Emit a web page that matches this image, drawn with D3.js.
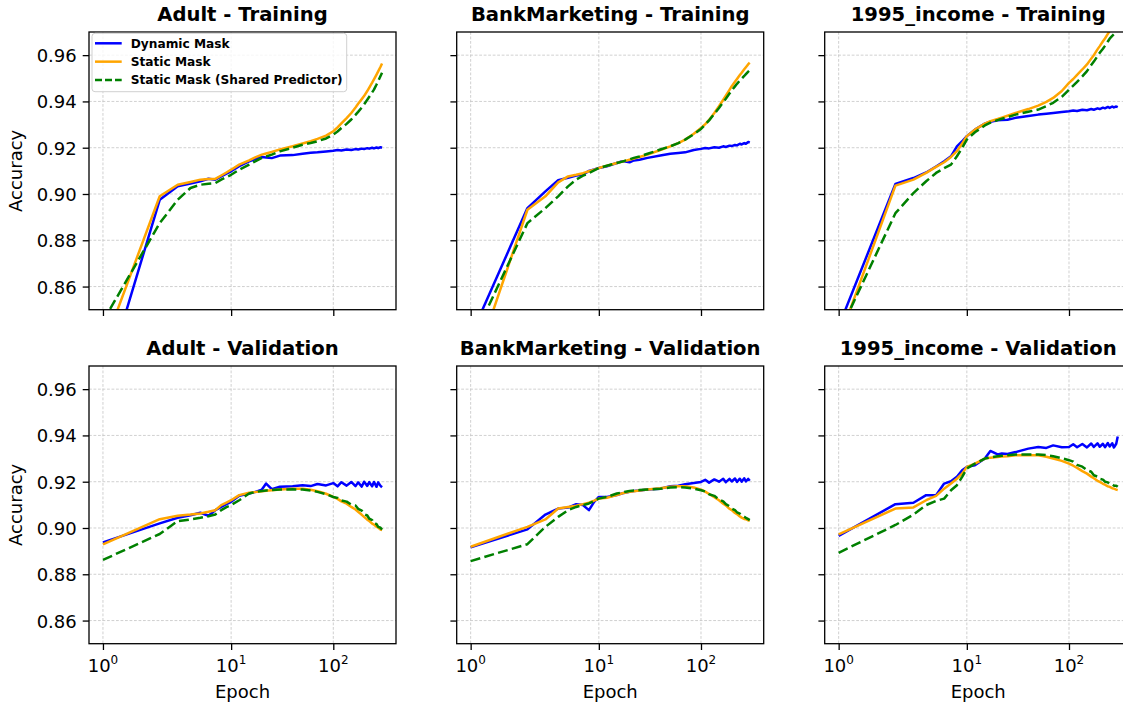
<!DOCTYPE html>
<html>
<head>
<meta charset="utf-8">
<script src="https://cdn.jsdelivr.net/npm/d3@7"></script>
<style>
  body { margin: 0; background: #fff; }
  svg { display: block; font-family: "DejaVu Sans", sans-serif; }
</style>
</head>
<body>
<div id="chart"></div>
<script>
// epochs sampled from the curves (x axis is matplotlib symlog, linthresh = 2)
const epochs = [1, 2, 3, 4, 5, 6, 7, 8, 9, 10, 12, 15, 17, 20, 22, 25, 30, 40, 50, 60, 70, 85,
    100, 110, 120, 135, 150, 165, 175, 190, 200, 215, 225, 240, 250, 265, 275, 290, 300];

const datasets = ["Adult", "BankMarketing", "1995_income"];
const phases = ["Training", "Validation"];
const seriesNames = ["Dynamic Mask", "Static Mask", "Static Mask (Shared Predictor)"];
const yTicks = [0.86, 0.88, 0.90, 0.92, 0.94, 0.96];
const xTicks = [1, 10, 100];

// Training
const adultTrainDyn = [0.816, 0.8975, 0.9033, 0.9045, 0.9055, 0.9066, 0.9062, 0.9076, 0.9088, 0.9098, 0.912, 0.9141, 0.915, 0.916, 0.9158, 0.9155, 0.9166, 0.9168, 0.9174, 0.9178, 0.918, 0.9184,
    0.9187, 0.919, 0.9188, 0.9192, 0.919, 0.9194, 0.9192, 0.9196, 0.9194, 0.9198, 0.9196, 0.92, 0.9197, 0.9201, 0.9198, 0.9202, 0.92];
const adultTrainStatic = [0.833, 0.899, 0.904, 0.9052, 0.9062, 0.9065, 0.9065, 0.908, 0.9093, 0.9105, 0.9127, 0.9145, 0.9157, 0.917, 0.9175, 0.9182, 0.9192, 0.9206, 0.9218, 0.9228, 0.9238, 0.9252,
    0.9271, 0.9288, 0.9305, 0.9328, 0.935, 0.9374, 0.939, 0.941, 0.9423, 0.9445, 0.946, 0.9481, 0.9495, 0.9516, 0.953, 0.955, 0.9564];
const adultTrainShared = [0.845, 0.8874, 0.8975, 0.9026, 0.904, 0.9044, 0.9047, 0.9062, 0.9073, 0.9083, 0.9105, 0.9127, 0.914, 0.9156, 0.9162, 0.917, 0.9184, 0.920, 0.9213, 0.922, 0.9228, 0.924,
    0.9257, 0.927, 0.9285, 0.9303, 0.9322, 0.9342, 0.9355, 0.9374, 0.9387, 0.9407, 0.942, 0.9439, 0.9451, 0.9473, 0.9488, 0.951, 0.9524];

const bankTrainDyn = [0.8385, 0.8939, 0.9011, 0.906, 0.907, 0.908, 0.9083, 0.910, 0.9106, 0.9112, 0.912, 0.9134, 0.9142, 0.9137, 0.9145, 0.9148, 0.9156, 0.9166, 0.9174, 0.9177, 0.918, 0.919,
    0.9195, 0.9199, 0.9197, 0.9202, 0.92, 0.9206, 0.9203, 0.9209, 0.9207, 0.9212, 0.921, 0.9217, 0.9214, 0.922, 0.9217, 0.9225, 0.9222];
const bankTrainStatic = [0.821, 0.8932, 0.899, 0.905, 0.9076, 0.9083, 0.909, 0.9098, 0.9105, 0.9112, 0.9122, 0.9134, 0.914, 0.9148, 0.9153, 0.916, 0.917, 0.919, 0.9206, 0.922, 0.9235, 0.926,
    0.9285, 0.9302, 0.932, 0.935, 0.9379, 0.9407, 0.9425, 0.945, 0.9466, 0.9485, 0.9497, 0.9514, 0.9524, 0.9539, 0.9548, 0.9561, 0.9567];
const bankTrainShared = [0.835, 0.8874, 0.8939, 0.899, 0.9033, 0.9062, 0.9079, 0.909, 0.9102, 0.9112, 0.9122, 0.9134, 0.914, 0.915, 0.9156, 0.9162, 0.9174, 0.9192, 0.9206, 0.922, 0.9235, 0.9258,
    0.9281, 0.93, 0.9318, 0.9346, 0.9372, 0.9397, 0.9412, 0.9434, 0.9448, 0.9465, 0.9476, 0.949, 0.9498, 0.951, 0.9518, 0.9529, 0.9535];

const incomeTrainDyn = [0.8427, 0.9043, 0.9069, 0.9093, 0.9119, 0.9141, 0.9163, 0.9206, 0.9228, 0.925, 0.9278, 0.9304, 0.9312, 0.9319, 0.932, 0.9321, 0.9329, 0.9337, 0.9343, 0.9347, 0.935, 0.9354,
    0.9358, 0.9361, 0.9359, 0.9364, 0.9362, 0.9367, 0.9364, 0.937, 0.9367, 0.9373, 0.937, 0.9376, 0.9372, 0.9378, 0.9374, 0.9378, 0.9375];
const incomeTrainStatic = [0.8365, 0.9036, 0.9062, 0.9091, 0.9117, 0.9137, 0.916, 0.9185, 0.9218, 0.925, 0.9278, 0.9304, 0.9315, 0.9324, 0.933, 0.9338, 0.935, 0.9367, 0.9382, 0.9398, 0.9415, 0.9445,
    0.948, 0.9497, 0.9515, 0.9538, 0.956, 0.9585, 0.96, 0.9625, 0.9639, 0.966, 0.9672, 0.9692, 0.9704, 0.972, 0.973, 0.9746, 0.9754];
const incomeTrainShared = [0.8395, 0.8917, 0.9004, 0.9055, 0.9091, 0.9112, 0.9127, 0.9163, 0.9199, 0.9235, 0.9267, 0.9296, 0.9308, 0.9319, 0.9325, 0.9332, 0.9343, 0.9355, 0.9365, 0.938, 0.9394, 0.942,
    0.9451, 0.9468, 0.9485, 0.9508, 0.9531, 0.9557, 0.9572, 0.9596, 0.961, 0.9628, 0.964, 0.9659, 0.9671, 0.9683, 0.969, 0.9701, 0.9708];

// Validation
const adultValDyn = [0.8938, 0.902, 0.9044, 0.9055, 0.9066, 0.9053, 0.9077, 0.9091, 0.9103, 0.9113, 0.9139, 0.9149, 0.9155, 0.9166, 0.9192, 0.9168, 0.9178, 0.918, 0.9185, 0.9181, 0.919, 0.9184,
    0.9194, 0.918, 0.9198, 0.9183, 0.9199, 0.9181, 0.9197, 0.9179, 0.92, 0.9182, 0.9198, 0.918, 0.9199, 0.9178, 0.9197, 0.9182, 0.9176];
const adultValStatic = [0.8929, 0.9038, 0.9053, 0.9058, 0.9063, 0.907, 0.9077, 0.9099, 0.911, 0.912, 0.9142, 0.9152, 0.9155, 0.9159, 0.9161, 0.9163, 0.9166, 0.917, 0.917, 0.9165, 0.9159, 0.9148,
    0.9134, 0.9126, 0.9115, 0.9105, 0.9091, 0.908, 0.907, 0.9057, 0.9048, 0.9036, 0.903, 0.9019, 0.9015, 0.9005, 0.9002, 0.8993, 0.8991];
const adultValShared = [0.8862, 0.8974, 0.903, 0.9037, 0.9044, 0.9051, 0.9058, 0.9077, 0.909, 0.9099, 0.912, 0.9149, 0.9155, 0.916, 0.9162, 0.9164, 0.9166, 0.9167, 0.9166, 0.9162, 0.9156, 0.9146,
    0.9134, 0.913, 0.9119, 0.9114, 0.9101, 0.9097, 0.9083, 0.9075, 0.906, 0.9054, 0.904, 0.9034, 0.9019, 0.9017, 0.9005, 0.9001, 0.8993];

const bankValDyn = [0.8916, 0.8994, 0.9058, 0.9084, 0.9088, 0.9103, 0.9099, 0.9077, 0.9113, 0.9134, 0.9134, 0.9142, 0.915, 0.9156, 0.916, 0.9162, 0.9166, 0.917, 0.918, 0.9183, 0.9189, 0.9194,
    0.9199, 0.9208, 0.9196, 0.921, 0.92, 0.9213, 0.9198, 0.9212, 0.9201, 0.9214, 0.9199, 0.9213, 0.92, 0.9215, 0.9201, 0.9212, 0.9204];
const bankValStatic = [0.8919, 0.9005, 0.9037, 0.9084, 0.9091, 0.9096, 0.9103, 0.9109, 0.9118, 0.9127, 0.9131, 0.9142, 0.915, 0.9156, 0.9159, 0.9162, 0.9166, 0.9172, 0.9178, 0.918, 0.918, 0.9175,
    0.9166, 0.9157, 0.9147, 0.9133, 0.912, 0.9105, 0.9098, 0.9083, 0.9077, 0.9065, 0.906, 0.905, 0.9045, 0.9039, 0.9038, 0.9033, 0.9031];
const bankValShared = [0.8857, 0.893, 0.9005, 0.9048, 0.9077, 0.9091, 0.9099, 0.9106, 0.9117, 0.9127, 0.9134, 0.9149, 0.9154, 0.916, 0.9162, 0.9164, 0.9166, 0.917, 0.9175, 0.9176, 0.9175, 0.917,
    0.9163, 0.9158, 0.9146, 0.9139, 0.9123, 0.9115, 0.9103, 0.9094, 0.9084, 0.9077, 0.9068, 0.9062, 0.9055, 0.9049, 0.9044, 0.9038, 0.9034];

const incomeValDyn = [0.8966, 0.9103, 0.9109, 0.9142, 0.9142, 0.9192, 0.9202, 0.9221, 0.9249, 0.9264, 0.9271, 0.93, 0.9333, 0.9318, 0.9322, 0.932, 0.9328, 0.9343, 0.935, 0.9346, 0.9357, 0.9349,
    0.935, 0.9362, 0.9349, 0.9363, 0.9348, 0.9365, 0.935, 0.9366, 0.9351, 0.9364, 0.9349, 0.9367, 0.9352, 0.9366, 0.9348, 0.9364, 0.9395];
const incomeValStatic = [0.8972, 0.9084, 0.9089, 0.912, 0.9139, 0.917, 0.9192, 0.9213, 0.9235, 0.9264, 0.9278, 0.93, 0.9304, 0.9307, 0.9309, 0.931, 0.9314, 0.9314, 0.9314, 0.9308, 0.93, 0.929,
    0.9278, 0.9269, 0.926, 0.9246, 0.9235, 0.9222, 0.9215, 0.9204, 0.9199, 0.9191, 0.9187, 0.918, 0.9178, 0.9172, 0.917, 0.9166, 0.9164];
const incomeValShared = [0.8893, 0.9013, 0.9058, 0.9099, 0.9117, 0.9127, 0.9163, 0.9185, 0.9221, 0.9257, 0.9278, 0.93, 0.9305, 0.931, 0.9312, 0.9314, 0.9318, 0.9318, 0.9318, 0.9315, 0.931, 0.9302,
    0.9293, 0.9287, 0.9273, 0.9265, 0.925, 0.9243, 0.9228, 0.9222, 0.9212, 0.9209, 0.92, 0.9197, 0.919, 0.9189, 0.9183, 0.9183, 0.9178];

const panelSeries = [
    [adultTrainDyn, adultTrainStatic, adultTrainShared],
    [bankTrainDyn, bankTrainStatic, bankTrainShared],
    [incomeTrainDyn, incomeTrainStatic, incomeTrainShared],
    [adultValDyn, adultValStatic, adultValShared],
    [bankValDyn, bankValStatic, bankValShared],
    [incomeValDyn, incomeValStatic, incomeValShared],
];

const W = 1123, H = 703;
const colLeft = [89, 456.7, 824.7];
const rowTop = [32, 366];
const PW = 307, PH = 277.7;
const colors = ["#0000ff", "#ffa500", "#008000"];
const dashes = [null, null, "10,4.3"];

// matplotlib-style symlog transform (base 10, linthresh 2, linscale 1)
const LINTHRESH = 2, LINSCALE_ADJ = 1 / (1 - 1 / 10);
const symlog = a => a <= LINTHRESH
    ? a * LINSCALE_ADJ
    : LINTHRESH * (LINSCALE_ADJ + Math.log10(a / LINTHRESH));

const t0 = symlog(d3.min(epochs)), t1 = symlog(d3.max(epochs));
const margin = 0.05 * (t1 - t0);
const xT = d3.scaleLinear().domain([t0 - margin, t1 + margin]).range([0, PW]);
const x = a => xT(symlog(a));
const y = d3.scaleLinear().domain([0.85, 0.97]).range([PH, 0]);

const svg = d3.select("#chart").append("svg")
    .attr("width", W)
    .attr("height", H);

panelSeries.forEach((series, i) => {
    const col = i % 3, row = Math.floor(i / 3);
    const g = svg.append("g").attr("transform", `translate(${colLeft[col]},${rowTop[row]})`);

    // grid
    const grid = g.append("g")
        .attr("stroke", "#c4c4c4")
        .attr("stroke-width", 0.8)
        .attr("stroke-dasharray", "2.8,1.7");
    grid.selectAll(".gy").data(yTicks).join("line")
        .attr("x1", 0).attr("x2", PW)
        .attr("y1", d => y(d)).attr("y2", d => y(d));
    grid.selectAll(".gx").data(xTicks).join("line")
        .attr("y1", 0).attr("y2", PH)
        .attr("x1", d => x(d)).attr("x2", d => x(d));

    const clipId = "clip" + i;
    g.append("clipPath").attr("id", clipId)
        .append("rect").attr("width", PW).attr("height", PH);

    const line = d3.line()
        .x((d, j) => x(epochs[j]))
        .y(d => y(d));

    g.append("g").attr("clip-path", `url(#${clipId})`)
        .selectAll("path").data(series).join("path")
        .attr("d", line)
        .attr("fill", "none")
        .attr("stroke", (d, k) => colors[k])
        .attr("stroke-width", 2.5)
        .attr("stroke-linejoin", "round")
        .attr("stroke-dasharray", (d, k) => dashes[k]);

    // frame
    g.append("rect")
        .attr("width", PW).attr("height", PH)
        .attr("fill", "none")
        .attr("stroke", "#000")
        .attr("stroke-width", 1.3);

    // y axis
    const yAxis = g.append("g")
        .call(d3.axisLeft(y).tickValues(yTicks).tickSize(6.3).tickPadding(6)
            .tickFormat(col === 0 ? d3.format(".2f") : () => ""));
    yAxis.select(".domain").remove();
    yAxis.selectAll("line").attr("stroke", "#000").attr("stroke-width", 1.3);
    yAxis.selectAll("text")
        .attr("font-family", "DejaVu Sans")
        .attr("font-size", 18)
        .attr("fill", "#000")
        .attr("dy", "0.36em");

    // x axis
    const xAxis = g.append("g").attr("transform", `translate(0,${PH})`)
        .call(d3.axisBottom(xT).tickValues(xTicks.map(symlog)).tickSize(6.3).tickFormat(() => ""));
    xAxis.select(".domain").remove();
    xAxis.selectAll("line").attr("stroke", "#000").attr("stroke-width", 1.3);

    if (row === 1) {
        const lbl = g.append("g").attr("font-size", 18).attr("fill", "#000");
        xTicks.forEach(t => {
            const txt = lbl.append("text")
                .attr("x", x(t))
                .attr("y", PH + 28.3)
                .attr("text-anchor", "middle");
            txt.append("tspan").text("10");
            txt.append("tspan")
                .attr("font-size", 12)
                .attr("dy", -8.5)
                .text(String(Math.round(Math.log10(t))));
        });
        g.append("text")
            .attr("x", PW / 2)
            .attr("y", PH + 54.5)
            .attr("text-anchor", "middle")
            .attr("font-size", 18)
            .text("Epoch");
    }

    if (col === 0) {
        g.append("text")
            .attr("transform", `translate(${21.5 - colLeft[0]},${PH / 2}) rotate(-90)`)
            .attr("text-anchor", "middle")
            .attr("font-size", 18)
            .text("Accuracy");
    }

    // title
    g.append("text")
        .attr("x", PW / 2)
        .attr("y", -11)
        .attr("text-anchor", "middle")
        .attr("font-size", 19.6)
        .attr("font-weight", "bold")
        .text(`${datasets[col]} - ${phases[row]}`);

    // legend in the first panel
    if (i === 0) {
        const lg = g.append("g").attr("transform", "translate(3,1.3)");
        lg.append("rect")
            .attr("width", 254.7).attr("height", 58.4)
            .attr("rx", 3)
            .attr("fill", "#fff").attr("fill-opacity", 0.8)
            .attr("stroke", "#d0d0d0").attr("stroke-width", 1);
        seriesNames.forEach((name, k) => {
            const ly = 10 + k * 18.35;
            lg.append("line")
                .attr("x1", 3).attr("x2", 29.7)
                .attr("y1", ly).attr("y2", ly)
                .attr("stroke", colors[k])
                .attr("stroke-width", 2.5)
                .attr("stroke-dasharray", k === 2 ? "7,3" : null);
            lg.append("text")
                .attr("x", 38.7)
                .attr("y", ly + 4.4)
                .attr("font-size", 12.2)
                .attr("font-weight", "bold")
                .text(name);
        });
    }
});
</script>
</body>
</html>
